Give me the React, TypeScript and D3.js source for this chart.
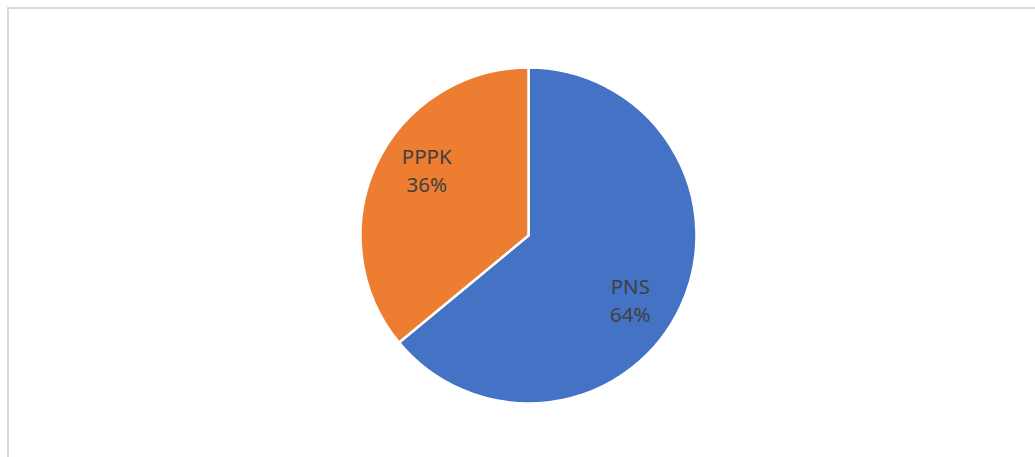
import * as d3 from 'd3';
import React, { useEffect, useRef } from 'react';

const categories = ['PNS', 'PPPK'];
const values = [64, 36];
const colors = ['#4472C4', '#ED7D31'];

const W = 1035;
const H = 457;

export default function App() {
  const ref = useRef<SVGSVGElement>(null);

  useEffect(() => {
    const svg = d3.select(ref.current);
    svg.selectAll('*').remove();

    // chart area border (runs off the right and bottom edges)
    svg.append('rect')
      .attr('x', 8)
      .attr('y', 8)
      .attr('width', W + 10)
      .attr('height', H + 10)
      .attr('fill', '#fff')
      .attr('stroke', '#d9d9d9')
      .attr('stroke-width', 2);

    const cx = 528.5, cy = 235.5, r = 168;
    const data = categories.map((c, i) => ({ name: c, value: values[i] }));
    const total = d3.sum(values);

    const pie = d3.pie<{ name: string; value: number }>()
      .value(d => d.value)
      .sort(null);
    const arcs = pie(data);
    const arc = d3.arc<d3.PieArcDatum<{ name: string; value: number }>>()
      .innerRadius(0)
      .outerRadius(r);

    const g = svg.append('g').attr('transform', `translate(${cx},${cy})`);

    g.selectAll('path.slice')
      .data(arcs)
      .enter().append('path')
      .attr('class', 'slice')
      .attr('d', arc)
      .attr('fill', (d, i) => colors[i])
      .attr('stroke', '#fff')
      .attr('stroke-width', 2.5)
      .attr('stroke-linejoin', 'round');

    // excel-ish "best fit" label placement: a bit past the mid angle
    const labelR = 121;
    const shift = 7.5 * Math.PI / 180;
    const labels = g.selectAll('g.label')
      .data(arcs)
      .enter().append('g')
      .attr('class', 'label')
      .attr('transform', d => {
        const a = (d.startAngle + d.endAngle) / 2 + shift;
        return `translate(${Math.sin(a) * labelR},${-Math.cos(a) * labelR})`;
      });

    labels.append('text')
      .attr('text-anchor', 'middle')
      .attr('font-family', 'Noto Sans, sans-serif')
      .attr('font-size', 20.5)
      .attr('fill', '#404040')
      .attr('y', -6.5)
      .text(d => d.data.name);

    labels.append('text')
      .attr('text-anchor', 'middle')
      .attr('font-family', 'Noto Sans, sans-serif')
      .attr('font-size', 20.5)
      .attr('fill', '#404040')
      .attr('y', 21.5)
      .text(d => Math.round(d.data.value / total * 100) + '%');
  }, []);

  return (
    <svg ref={ref} width={W} height={H}
      style={{ position: 'absolute', left: 0, top: 0, display: 'block' }} />
  );
}
